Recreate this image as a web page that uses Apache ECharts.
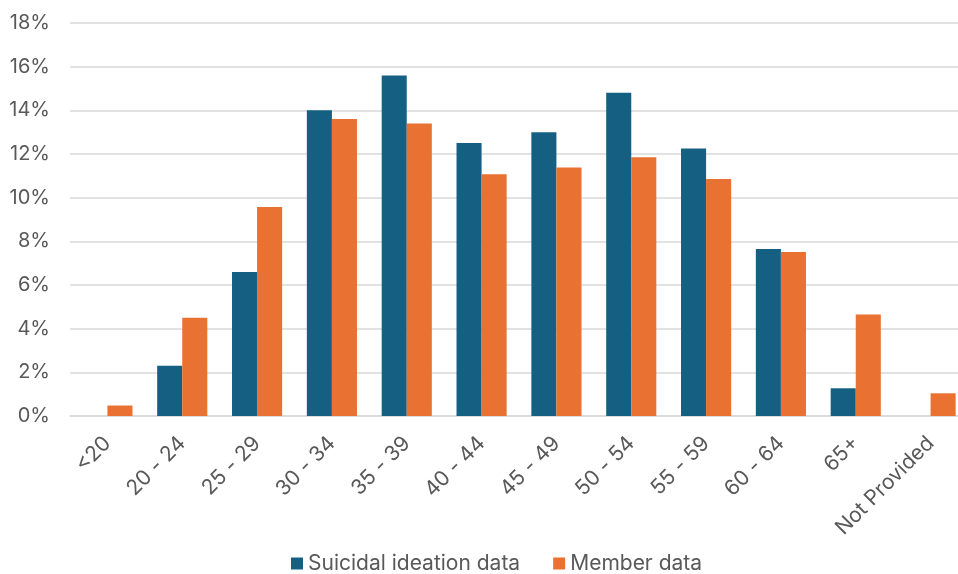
<!DOCTYPE html>
<html>
<head>
<meta charset="utf-8">
<script src="https://cdn.jsdelivr.net/npm/echarts@6/dist/echarts.min.js"></script>
<style>
  html, body { margin: 0; padding: 0; background: #ffffff; }
  #chart { width: 958px; height: 574px; }
</style>
</head>
<body>
<div id="chart"></div>
<script>
// Age bands and share of each population (%)
const categories = ['<20', '20 - 24', '25 - 29', '30 - 34', '35 - 39', '40 - 44', '45 - 49', '50 - 54', '55 - 59', '60 - 64', '65+', 'Not Provided'];
const ideationData = [null, 2.3, 6.6, 14.0, 15.6, 12.5, 13.0, 14.8, 12.25, 7.65, 1.27, null];
const memberData = [0.48, 4.5, 9.57, 13.6, 13.4, 11.07, 11.38, 11.85, 10.86, 7.51, 4.65, 1.04];
const yTicks = { min: 0, max: 18, interval: 2 };

const textColor = '#595959';
const fontFamily = 'Inter, sans-serif';

const chart = echarts.init(document.getElementById('chart'));
chart.setOption({
  animation: false,
  grid: { left: 70, top: 23, width: 898, height: 393, containLabel: false, outerBoundsMode: 'none' },
  legend: {
    top: 553,
    left: 291,
    padding: 0,
    itemWidth: 12,
    itemHeight: 12,
    itemGap: 33,
    icon: 'rect',
    textStyle: { color: textColor, fontSize: 21, fontFamily: fontFamily },
    data: ['Suicidal ideation data', 'Member data']
  },
  xAxis: {
    type: 'category',
    data: categories,
    axisLine: { lineStyle: { color: '#d9d9d9', width: 1.5 } },
    axisTick: { show: false },
    axisLabel: {
      rotate: 45,
      interval: 0,
      margin: 24,
      color: textColor,
      fontSize: 21,
      fontFamily: fontFamily
    }
  },
  yAxis: {
    type: 'value',
    min: yTicks.min,
    max: yTicks.max,
    interval: yTicks.interval,
    axisLine: { show: false },
    axisTick: { show: false },
    splitLine: { lineStyle: { color: '#d9d9d9', width: 1.5 } },
    axisLabel: {
      formatter: '{value}%',
      margin: 20,
      color: textColor,
      fontSize: 20,
      fontFamily: fontFamily
    }
  },
  series: [
    {
      name: 'Suicidal ideation data',
      type: 'bar',
      data: ideationData,
      barGap: '0%',
      barCategoryGap: '33%',
      itemStyle: { color: '#156082' }
    },
    {
      name: 'Member data',
      type: 'bar',
      data: memberData,
      barGap: '0%',
      barCategoryGap: '33%',
      itemStyle: { color: '#E97132' }
    }
  ]
});
</script>
</body>
</html>
